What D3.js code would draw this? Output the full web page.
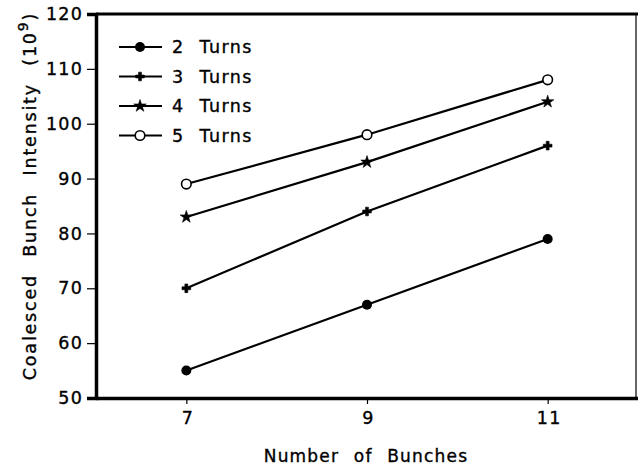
<!DOCTYPE html>
<html>
<head>
<meta charset="utf-8">
<style>
    body { margin: 0; background: white; }
    svg { font-family: 'DejaVu Sans', Arial, sans-serif; }
    text { stroke: black; stroke-width: 0.35px; }
</style>
</head>
<body>
<svg width="638" height="465"></svg>
<script src="https://d3js.org/d3.v7.min.js"></script>
<script>
    // data
    let bunches = [7, 9, 11]
    let turns = ["2 Turns", "3 Turns", "4 Turns", "5 Turns"]
    let turns2 = [55, 67, 79]
    let turns3 = [70, 84, 96]
    let turns4 = [83, 93, 104]
    let turns5 = [89, 98, 108]
    let yTicks = [50, 60, 70, 80, 90, 100, 110, 120]

    let series = [turns2, turns3, turns4, turns5]
    let markers = ["dot", "plus", "star", "open"]

    let svg = d3.select("svg")
    let plotLeft = 96, plotRight = 638, plotTop = 14, plotBottom = 398

    let x = d3.scaleLinear().domain([6, 12]).range([plotLeft, plotRight])
    let y = d3.scaleLinear().domain([50, 120]).range([plotBottom, plotTop])

    // frame
    svg.append("line").attr("x1", plotLeft).attr("x2", plotRight).attr("y1", plotTop).attr("y2", plotTop)
        .attr("stroke", "black").attr("stroke-width", 3)
    svg.append("line").attr("x1", 636).attr("x2", 636).attr("y1", plotTop).attr("y2", plotBottom)
        .attr("stroke", "black").attr("stroke-width", 1.2)

    let yAxis = svg.append("g")
        .attr("transform", `translate(${plotLeft},0)`)
        .call(d3.axisLeft(y).tickValues(yTicks).tickSize(9).tickPadding(4))
    yAxis.attr("font-size", null).attr("font-family", null)
    yAxis.select(".domain").attr("stroke-width", 3.5)
    yAxis.selectAll(".tick line").attr("stroke-width", 1.2)
    yAxis.selectAll(".tick text").attr("font-size", 17.5).attr("letter-spacing", 1.2)

    let xAxis = svg.append("g")
        .attr("transform", `translate(0,${plotBottom})`)
        .call(d3.axisBottom(x).tickValues(bunches).tickFormat(d3.format("d"))
            .tickSize(6).tickPadding(8).tickSizeOuter(0))
    xAxis.attr("font-size", null).attr("font-family", null)
    xAxis.select(".domain").attr("stroke-width", 3.5)
    xAxis.selectAll(".tick line").attr("stroke-width", 1.2)
    xAxis.selectAll(".tick text").attr("font-size", 17.5).attr("letter-spacing", 1.2).attr("dx", 1)

    svg.append("text")
        .attr("x", 366).attr("y", 462)
        .attr("text-anchor", "middle")
        .attr("font-size", 17)
        .attr("letter-spacing", 1.2)
        .attr("word-spacing", 8)
        .text("Number of Bunches")

    let ytitle = svg.append("text")
        .attr("transform", "translate(36,196) rotate(-90)")
        .attr("text-anchor", "middle")
        .attr("font-size", 17.5)
        .attr("letter-spacing", 1.8)
        .attr("word-spacing", 10)
    ytitle.append("tspan").text("Coalesced Bunch Intensity (10")
    ytitle.append("tspan").attr("dy", -8).attr("font-size", 14).attr("word-spacing", 0).text("9")
    ytitle.append("tspan").attr("dy", 8).text(")")

    let star = d3.symbol().type(d3.symbolStar).size(48)
    let cross = d3.symbol().type(d3.symbolCross).size(42)

    function drawMarker(g, kind) {
        if (kind == "dot") {
            g.append("circle").attr("r", 5).attr("fill", "black")
        } else if (kind == "open") {
            g.append("circle").attr("r", 4.8).attr("fill", "white").attr("stroke", "black").attr("stroke-width", 1.6)
        } else if (kind == "star") {
            g.append("path").attr("d", star()).attr("fill", "black").attr("stroke", "black").attr("stroke-width", 0.6)
        } else {
            g.append("path").attr("d", cross()).attr("fill", "black").attr("stroke", "black").attr("stroke-width", 0.6)
        }
    }

    let line = d3.line().x((d, i) => x(bunches[i])).y(d => y(d))

    series.forEach((vals, s) => {
        svg.append("path")
            .attr("d", line(vals))
            .attr("fill", "none")
            .attr("stroke", "black")
            .attr("stroke-width", 2.2)
        vals.forEach((v, i) => {
            let g = svg.append("g").attr("transform", `translate(${x(bunches[i])},${y(v)})`)
            drawMarker(g, markers[s])
        })
    })

    // legend
    let legend = svg.append("g").attr("transform", "translate(119,47)")
    turns.forEach((t, i) => {
        let row = legend.append("g").attr("transform", `translate(0,${i * 29.5})`)
        row.append("line").attr("x1", 0).attr("x2", 43).attr("stroke", "black").attr("stroke-width", 2)
        drawMarker(row.append("g").attr("transform", "translate(21,0)"), markers[i])
        row.append("text")
            .attr("x", 53).attr("y", 6)
            .attr("font-size", 17.5)
            .attr("letter-spacing", 1.4)
            .attr("word-spacing", 8)
            .text(t)
    })
</script>
</body>
</html>
